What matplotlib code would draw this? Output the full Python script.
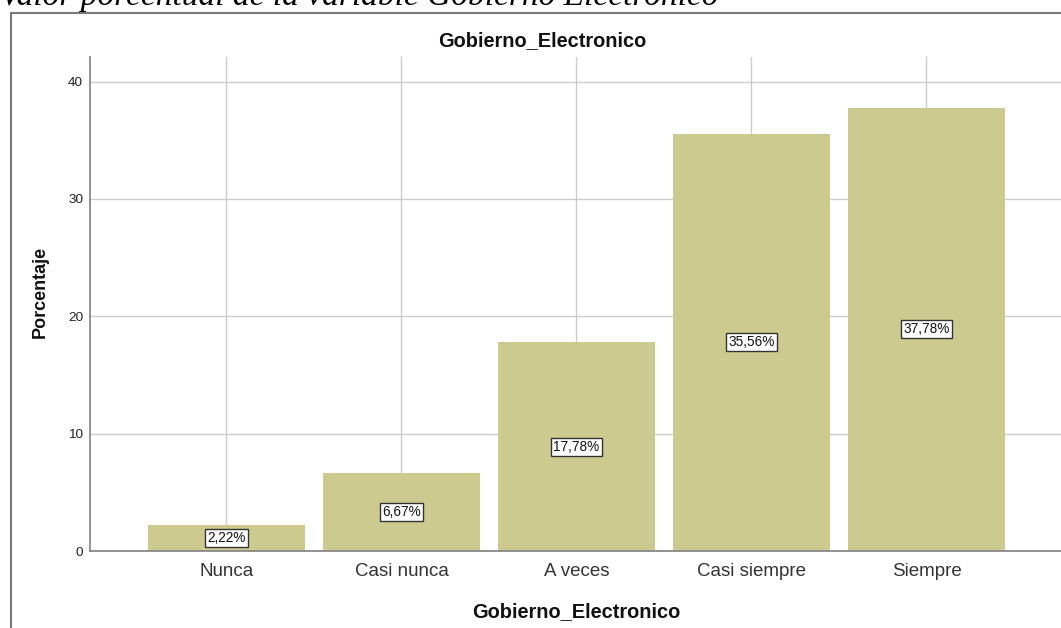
import matplotlib.pyplot as plt
from matplotlib.patches import Rectangle

categorias = ['Nunca', 'Casi nunca', 'A veces', 'Casi siempre', 'Siempre']
porcentajes = [2.22, 6.67, 17.78, 35.56, 37.78]
etiquetas = ['2,22%', '6,67%', '17,78%', '35,56%', '37,78%']
yticks = [0, 10, 20, 30, 40]

W, H = 1061, 628
fig = plt.figure(figsize=(W / 100, H / 100), dpi=100)

# caption above the frame (cut off at the top in the original)
fig.text(0.0, 1 - 5 / H, 'Valor porcentual de la variable Gobierno Electronico',
         family='Liberation Serif', style='italic', fontsize=24, va='baseline',
         ha='left', color='black')

# outer chart frame
fig.add_artist(Rectangle((11 / W, -0.1), 1.2, 1 - 13 / H + 0.1,
                         transform=fig.transFigure, fill=False,
                         edgecolor='#7a7a7a', lw=1.5))

ax = fig.add_axes([90 / W, 1 - 551 / H, 973 / W, 494 / H])
x = range(len(categorias))
ax.bar(x, porcentajes, width=0.9, color='#cdca8f', zorder=2)
ax.set_xlim(-0.78, 4.78)
ax.set_ylim(0, 42.1)
ax.set_yticks(yticks)
ax.set_xticks(list(x))
ax.set_xticklabels(categorias, family='Liberation Sans', fontsize=13.5, color='#333333')
ax.set_yticklabels([str(v) for v in yticks], family='Liberation Sans', fontsize=9.7, color='#222222')
ax.tick_params(axis='x', length=0, pad=9)
ax.tick_params(axis='y', length=0, pad=5)
ax.grid(True, color='#cccccc', lw=1, zorder=0)
ax.set_axisbelow(True)
for s in ['top', 'right']:
    ax.spines[s].set_visible(False)
for s in ['left', 'bottom']:
    ax.spines[s].set_color('#808080')
    ax.spines[s].set_linewidth(1.2)

for xi, v, lab in zip(x, porcentajes, etiquetas):
    ax.text(xi, v / 2, lab, ha='center', va='center', family='Liberation Sans',
            fontsize=9.8, color='#111111', zorder=3,
            bbox=dict(boxstyle='square,pad=0.15', fc='white', ec='#333333', lw=1))

fig.text(542 / W, 1 - 41 / H, 'Gobierno_Electronico', ha='center', va='center',
         family='Liberation Sans', fontsize=14.4, fontweight='bold', color='#111111')
fig.text(576 / W, 1 - 612 / H, 'Gobierno_Electronico', ha='center', va='center',
         family='Liberation Sans', fontsize=14.4, fontweight='bold', color='#111111')
fig.text(40 / W, 1 - 292 / H, 'Porcentaje', ha='center', va='center', rotation=90,
         family='Liberation Sans', fontsize=13, fontweight='bold', color='#111111')

fig.savefig('out.png', dpi=100)
